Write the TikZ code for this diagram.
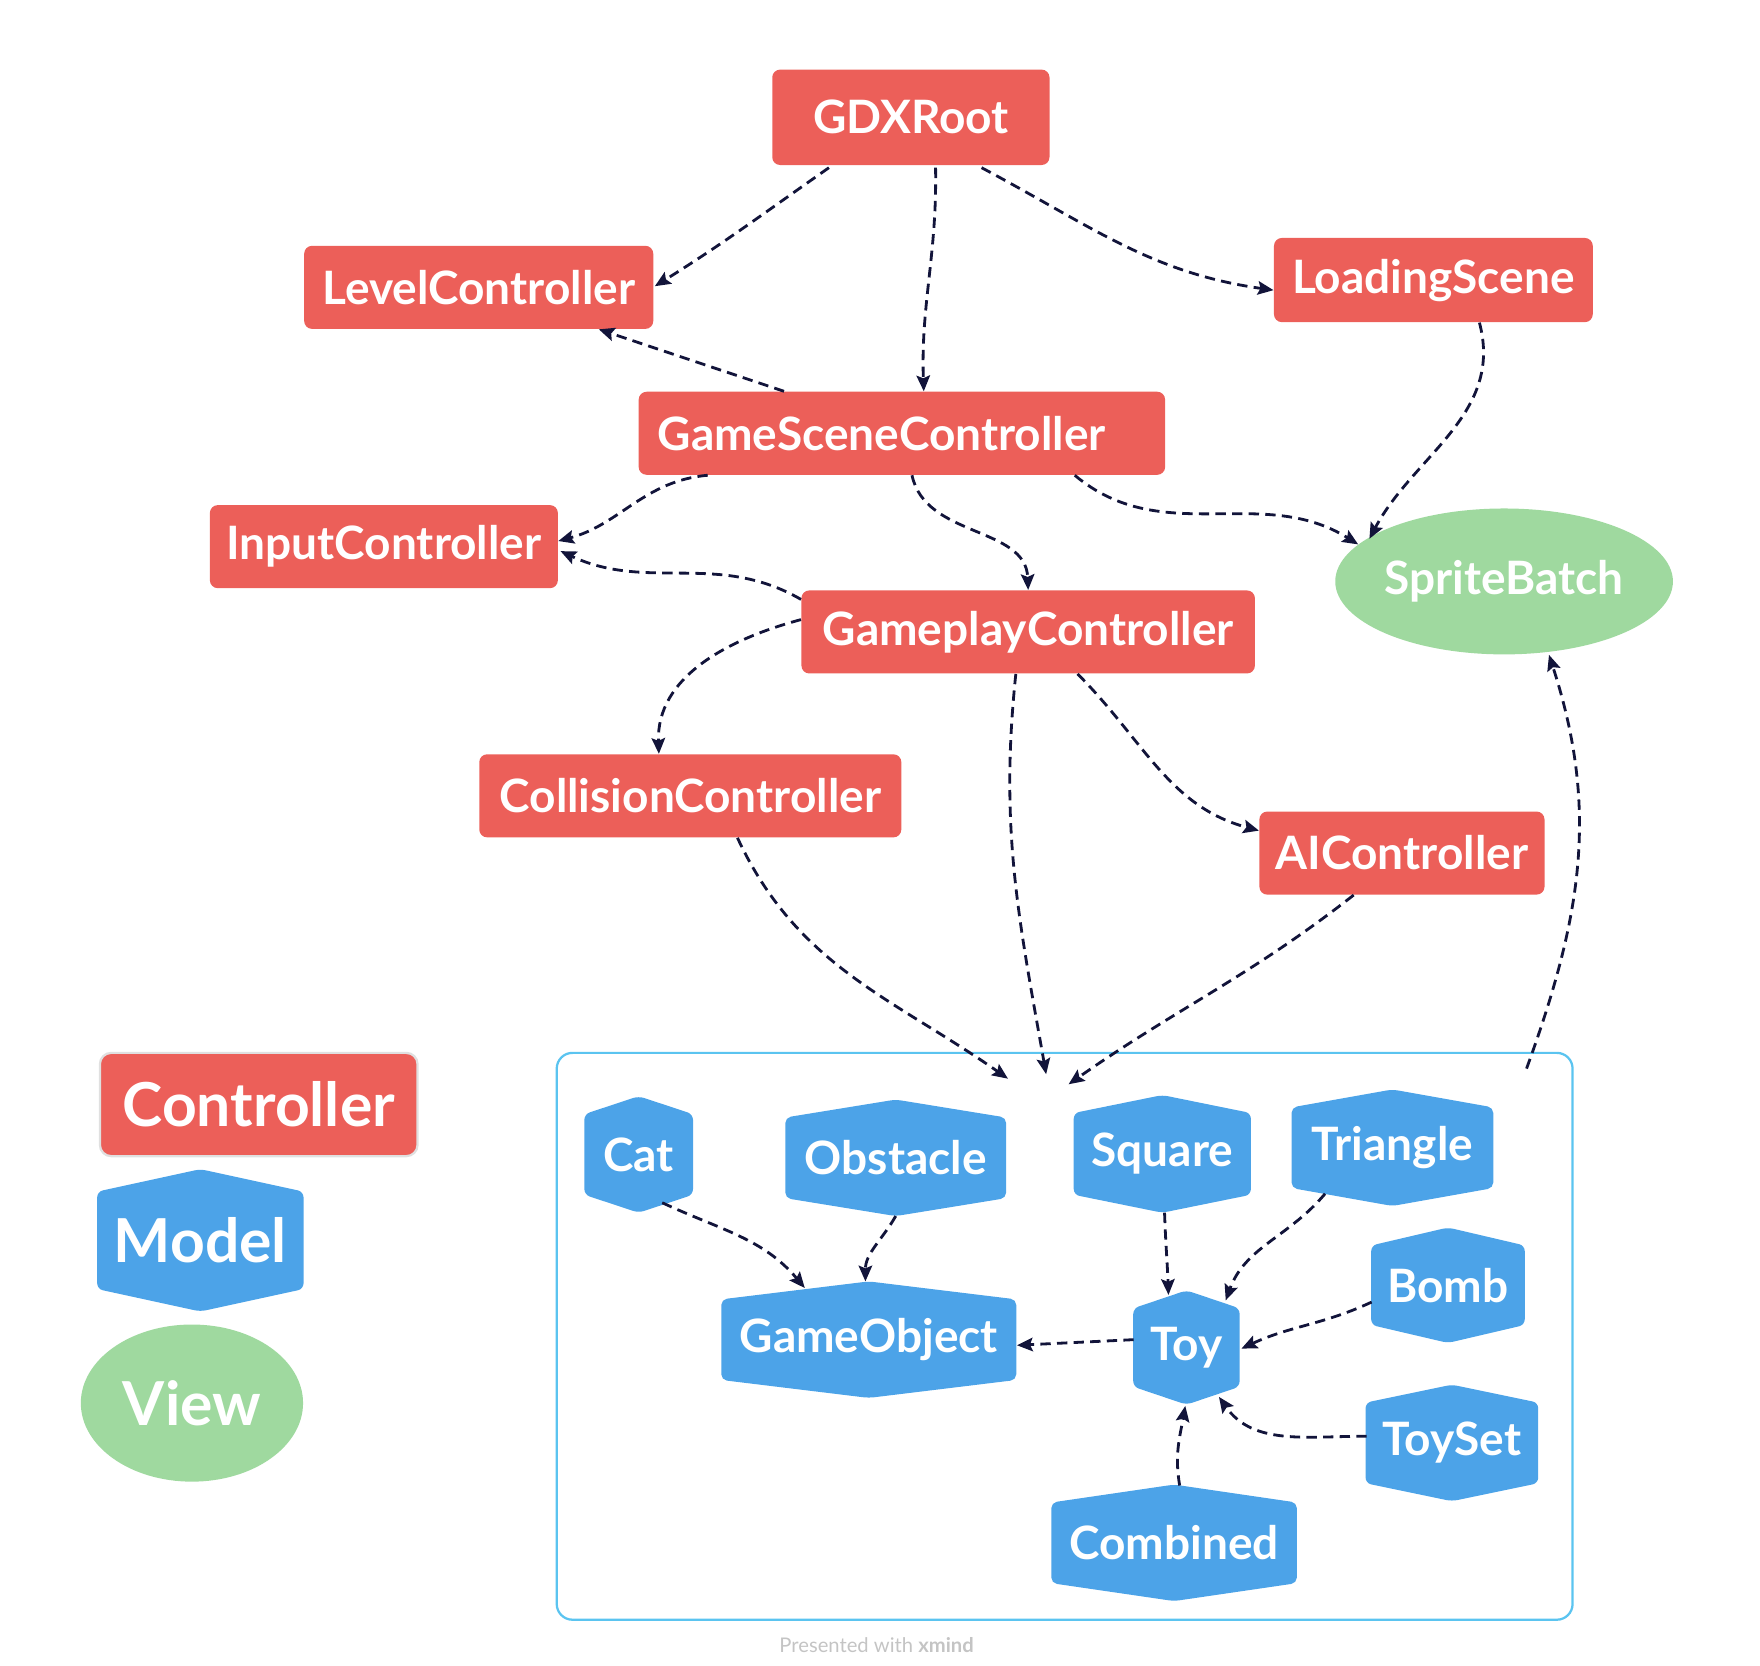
\documentclass[tikz,border=0pt]{standalone}
\usepackage{fontspec}
\setmainfont{Lato}
\usetikzlibrary{arrows.meta,calc,backgrounds,shapes.geometric}

\definecolor{ctrl}{HTML}{EC5F59}
\definecolor{model}{HTML}{4CA3E8}
\definecolor{view}{HTML}{9FD99F}
\definecolor{frame}{HTML}{5BC4F0}
\definecolor{link}{HTML}{12143A}
\definecolor{credit}{HTML}{C4C4C4}

% filled hexagon behind a model node: pointed top and bottom, vertical sides
\newcommand\hexback[2][16]{%
  \fill[model, rounded corners=2.5pt] (#2.north)
    -- ($(#2.north east)+(0,#1)$) -- ($(#2.south east)+(0,-#1)$)
    -- (#2.south)
    -- ($(#2.south west)+(0,-#1)$) -- ($(#2.north west)+(0,#1)$) -- cycle;}

\begin{document}
\begin{tikzpicture}[x=0.5pt,y=-0.5pt,
  box/.style 2 args={minimum width=#1*0.5pt, minimum height=#2*0.5pt, inner sep=0pt},
  nodefont/.style={font=\bfseries\fontsize{20.5}{24}\selectfont},
  legendfont/.style={font=\bfseries\fontsize{27}{30}\selectfont},
  ctrlnode/.style={fill=ctrl, rounded corners=3.5pt, text=white, nodefont},
  modelnode/.style={text=white, nodefont},
  viewnode/.style={ellipse, fill=view, text=white, nodefont},
  dep/.style={draw=link, line width=1.25pt, dash pattern=on 4.6pt off 2.8pt,
    -{Stealth[length=7pt,width=6pt,inset=1.2pt]}},
]
\useasboundingbox (0,0) rectangle (1568,1484);

% controllers
\node[ctrlnode, box={247}{85}] (gdx) at (811.5,104.5) {GDXRoot};
\node[ctrlnode, box={311}{74}] (lvl) at (426.5,256) {LevelController};
\node[ctrlnode, box={284}{75}] (load) at (1277,249.5) {LoadingScene};
\node[ctrlnode, box={469}{74}] (gsc) at (803.5,386) {GameSceneController\hspace*{18pt}};
\node[ctrlnode, box={310}{74}] (inp) at (342,487) {InputController};
\node[ctrlnode, box={404}{74}] (gp) at (916,563) {GameplayController};
\node[ctrlnode, box={376}{74}] (coll) at (615,709) {CollisionController};
\node[ctrlnode, box={254}{74}] (ai) at (1249,760) {AIController};

% view
\node[viewnode, box={298}{130}] (sprite) at (1340,518) {SpriteBatch};

% model group frame
\node[draw=frame, line width=1pt, rounded corners=7pt, box={905}{505}] (models) at (948.5,1190.5) {};

% models
\node[modelnode, box={96}{103}] (cat) at (569,1028.5) {Cat};
\node[modelnode, box={196}{103}] (obst) at (798,1031.5) {Obstacle};
\node[modelnode, box={157}{104}] (sq) at (1035.5,1028) {Square};
\node[modelnode, box={179}{103}] (tri) at (1240.5,1022.5) {Triangle};
\node[modelnode, box={136}{102}] (bomb) at (1290,1145) {Bomb};
\node[modelnode, box={262}{103}] (gobj) at (774,1193.5) {GameObject};
\node[modelnode, box={94}{101}] (toy) at (1057,1200.5) {Toy};
\node[modelnode, box={153}{103}] (toyset) at (1293.5,1285.5) {ToySet};
\node[modelnode, box={218}{103}] (comb) at (1046,1374.5) {Combined};

% legend
\node[fill=ctrl, draw=black!12, line width=1pt, rounded corners=5pt, text=white,
  legendfont, box={283}{92}] (legc) at (230.5,984) {Controller};
\node[text=white, legendfont, box={183}{126}] (legm) at (178.5,1105) {Model};
\node[ellipse, fill=view, text=white, legendfont, box={198}{140}] (legv) at (171,1250) {View};

\begin{scope}[on background layer]
  \foreach \m in {cat,obst,sq,tri,bomb,gobj,toy,toyset,comb} {\hexback{\m}}
  \hexback[20]{legm}
\end{scope}

% dependencies between controllers and views
\draw[dep] ([shift={(-73,2)}]gdx.south) to[out=215,in=32] ([shift={(1,-1)}]lvl.east);
\draw[dep] ([shift={(22,2)}]gdx.south) to[out=-89,in=92] ([shift={(19.5,0)}]gsc.north);
\draw[dep] ([shift={(63,2)}]gdx.south) to[out=-28,in=172] ([shift={(0,9)}]load.west);
\draw[dep] ([shift={(-105,0)}]gsc.north) -- ([shift={(107,0)}]lvl.south);
\draw[dep] ([shift={(-173,0)}]gsc.south) to[out=185,in=15] ([shift={(0,-5)}]inp.east);
\draw[dep] ([shift={(9,0)}]gsc.south) to[out=-78,in=92] (gp.north);
\draw[dep] ([shift={(154,0)}]gsc.south) to[out=-40,in=148] ([shift={(-130,-33)}]sprite.center);
\draw[dep] ([shift={(41,0)}]load.south) to[out=-75,in=62] ([shift={(-120,-38)}]sprite.center);
\draw[dep] ([shift={(0,-29)}]gp.west) to[out=150,in=-25] ([shift={(2,4)}]inp.east);
\draw[dep] ([shift={(0,-11)}]gp.west) to[out=195,in=92] ([shift={(-28,0)}]coll.north);
\draw[dep] ([shift={(-11,0)}]gp.south) to[out=-96,in=100] ([shift={(-16.5,20)}]models.north);
\draw[dep] ([shift={(44,0)}]gp.south) to[out=-45,in=165] ([shift={(0,-20)}]ai.west);
\draw[dep] ([shift={(42,0)}]coll.south) to[out=-65,in=145] ([shift={(-50.5,24)}]models.north);
\draw[dep] ([shift={(-43,0)}]ai.south) to[out=218,in=35] ([shift={(3.5,29)}]models.north);
\draw[dep] ([shift={(411.5,15)}]models.north) to[out=70,in=-72] ([shift={(40,0)}]sprite.south);

% dependencies between models
\draw[dep] ([shift={(21,43)}]cat.center) to[out=-25,in=130] ([shift={(-57,-46)}]gobj.center);
\draw[dep] (obst.south) to[out=-120,in=90] ([shift={(-3,0)}]gobj.north);
\draw[dep] ([shift={(2,0)}]sq.south) to[out=-88,in=92] ([shift={(-16,4)}]toy.north);
\draw[dep] ([shift={(-60,41)}]tri.center) to[out=-130,in=70] ([shift={(35,-42)}]toy.center);
\draw[dep] ([shift={(-68,15)}]bomb.center) to[out=205,in=25] ([shift={(49,1)}]toy.center);
\draw[dep] ([shift={(-47,-7)}]toy.center) -- ([shift={(132,5)}]gobj.center);
\draw[dep] ([shift={(-76,-6)}]toyset.center) to[out=180,in=-55] ([shift={(29,44)}]toy.center);
\draw[dep] ([shift={(5,-51)}]comb.center) to[out=100,in=-100] ([shift={(-1,52)}]toy.center);

% footer
\node[text=credit, font=\fontsize{9}{10}\selectfont] (footer) at (781,1466) {Presented with \textbf{xmind}};
\end{tikzpicture}
\end{document}
